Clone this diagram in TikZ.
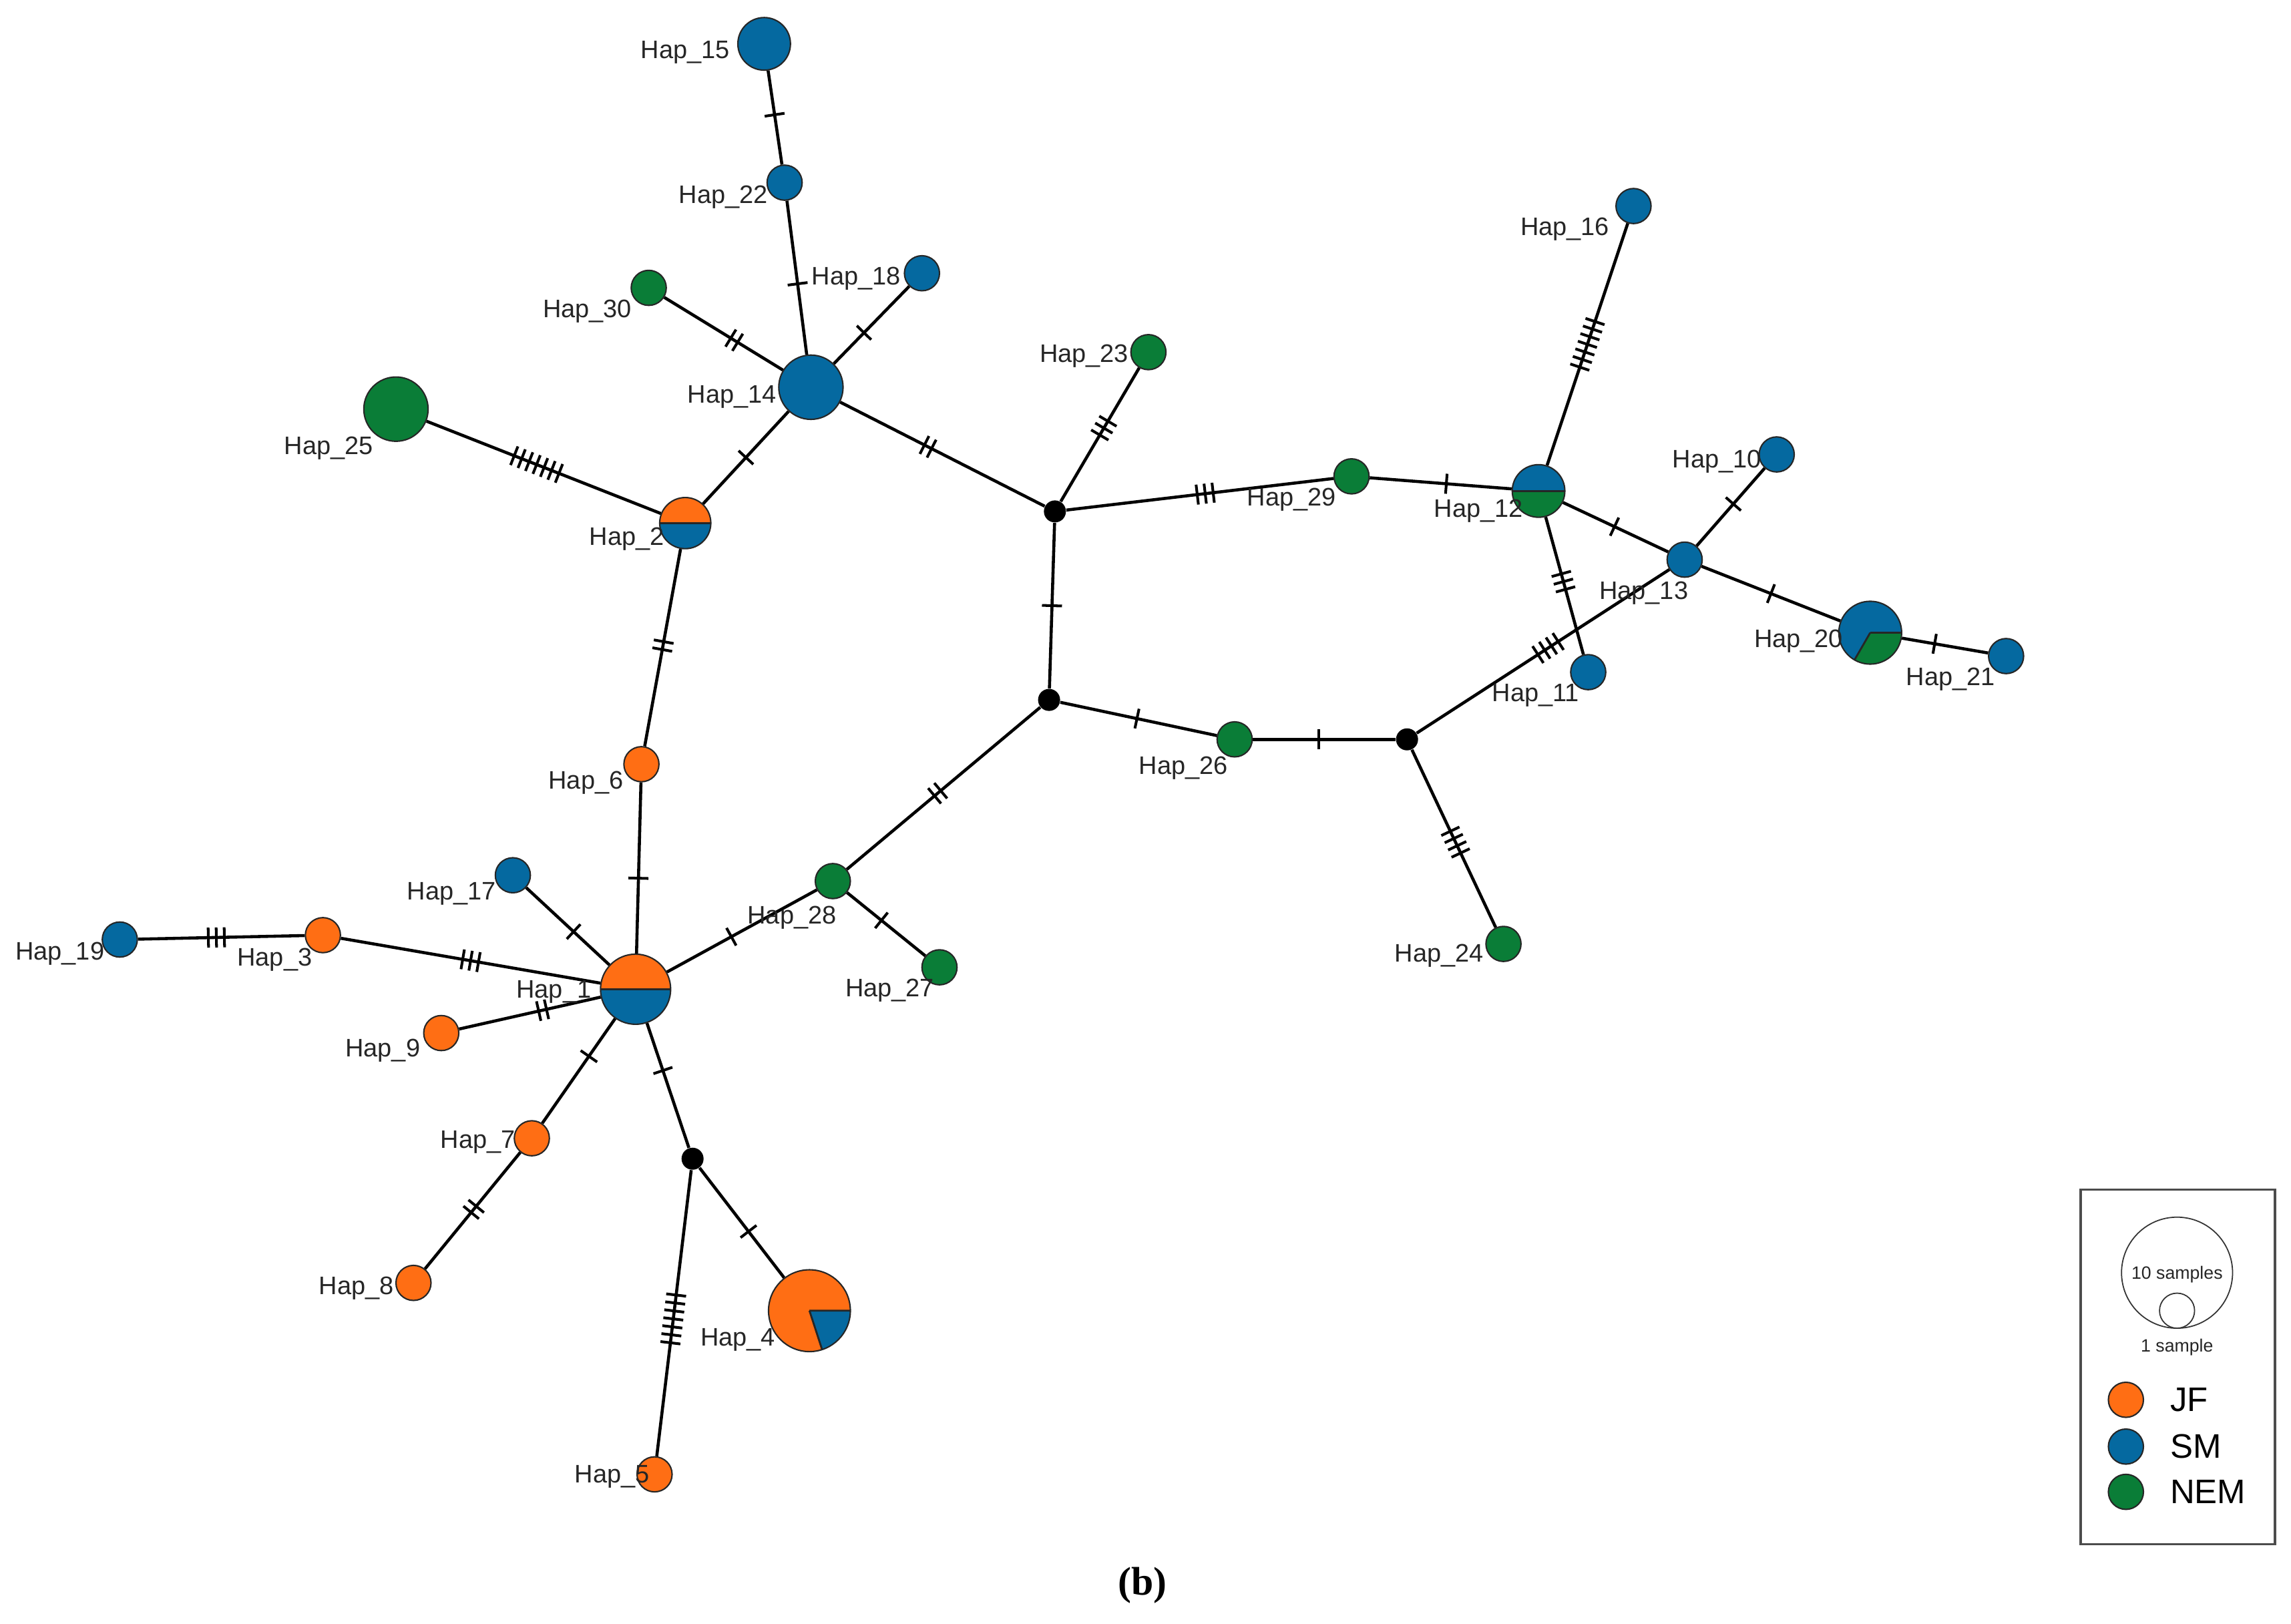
\documentclass[tikz,border=0pt]{standalone}
\usepackage{fontspec}
\setmainfont{Liberation Sans}
\newfontfamily\serifb{Liberation Serif}
\usetikzlibrary{decorations.markings}
\definecolor{jf}{RGB}{255,110,20}
\definecolor{sm}{RGB}{5,105,160}
\definecolor{nem}{RGB}{10,125,55}
\begin{document}
\begin{tikzpicture}[x=0.02188cm,y=-0.02188cm,
  hapnode/.style={circle, draw=black!85, line width=0.6pt, inner sep=0pt, minimum size={2*#1*0.02188cm}},
  mv/.style={circle, fill=black, inner sep=0pt, minimum size=0.33cm},
  lab/.style={text=black!85, font=\fontsize{10.8}{13}\selectfont, inner sep=0pt, yshift=-0.04cm},
  edge/.style={line width=1.3pt, black},
  muts/.style 2 args={postaction={decorate, decoration={markings, mark=at position #1 with {\foreach \k in {1,...,#2}{\draw[line width=1.15pt] ({(\k-(#2+1)/2)*0.12cm},-0.15cm) -- ++(0,0.3cm);}}}}},
  halves/.style 2 args={fill=#1, path picture={\fill[#2] (path picture bounding box.west) rectangle (path picture bounding box.south east); \draw[line width=0.9pt] (path picture bounding box.west) -- (path picture bounding box.east);}}
]
\useasboundingbox (0,0) rectangle (1568,1111);

% haplotype nodes
\node[hapnode=18, fill=sm] (h15) at (523,30) {};
\node[hapnode=12, fill=sm] (h22) at (537,125) {};
\node[hapnode=12, fill=sm] (h18) at (631,187) {};
\node[hapnode=12, fill=nem] (h30) at (444,197) {};
\node[hapnode=22, fill=sm] (h14) at (555,265) {};
\node[hapnode=22, fill=nem] (h25) at (271,280) {};
\node[hapnode=17.5, halves={jf}{sm}] (h2) at (469,358) {};
\node[hapnode=12, fill=jf] (h6) at (439,523) {};
\node[hapnode=12, fill=sm] (h17) at (351,599) {};
\node[hapnode=12, fill=sm] (h19) at (82,643) {};
\node[hapnode=12, fill=jf] (h3) at (221,640) {};
\node[hapnode=24, halves={jf}{sm}] (h1) at (435,677) {};
\node[hapnode=12, fill=jf] (h9) at (302,707) {};
\node[hapnode=12, fill=nem] (h28) at (570,603) {};
\node[hapnode=12, fill=nem] (h27) at (643,662) {};
\node[hapnode=12, fill=jf] (h7) at (364,779) {};
\node[hapnode=12, fill=jf] (h8) at (283,878) {};
\node[mv] (mD) at (474,793) {};
\node[hapnode=28, fill=jf, path picture={\fill[sm] (path picture bounding box.center) -- +(0:2cm) -- +(-36:2.5cm) -- +(-72:2cm) -- cycle; \draw[line width=0.8pt] (path picture bounding box.center) -- +(0:2cm) (path picture bounding box.center) -- +(-72:2cm);}] (h4) at (554,897) {};
\node[hapnode=12, fill=jf] (h5) at (448,1009) {};
\node[hapnode=12, fill=nem] (h23) at (786,241) {};
\node[mv] (mA) at (722,350) {};
\node[mv] (mB) at (718,479) {};
\node[hapnode=12, fill=nem] (h29) at (925,326) {};
\node[hapnode=18, halves={sm}{nem}] (h12) at (1053,336) {};
\node[hapnode=12, fill=sm] (h16) at (1118,141) {};
\node[hapnode=12, fill=sm] (h13) at (1153,383) {};
\node[hapnode=12, fill=sm] (h10) at (1216,311) {};
\node[hapnode=21.5, fill=sm, path picture={\fill[nem] (path picture bounding box.center) -- +(0:2cm) -- +(-60:2cm) -- +(-120:2cm) -- cycle; \draw[line width=0.8pt] (path picture bounding box.center) -- +(0:2cm) (path picture bounding box.center) -- +(-120:2cm);}] (h20) at (1280,433) {};
\node[hapnode=12, fill=sm] (h21) at (1373,449) {};
\node[hapnode=12, fill=sm] (h11) at (1087,460) {};
\node[hapnode=12, fill=nem] (h26) at (845,506) {};
\node[mv] (mC) at (963,506) {};
\node[hapnode=12, fill=nem] (h24) at (1029,646) {};

% connectors with mutation ticks
\draw[edge, muts={0.47}{1}] (h15) -- (h22);
\draw[edge, muts={0.54}{1}] (h22) -- (h14);
\draw[edge, muts={0.6}{1}] (h18) -- (h14);
\draw[edge, muts={0.59}{2}] (h30) -- (h14);
\draw[edge, muts={0.5}{1}] (h14) -- (h2);
\draw[edge, muts={0.43}{2}] (h14) -- (mA);
\draw[edge, muts={0.47}{7}] (h25) -- (h2);
\draw[edge, muts={0.49}{2}] (h2) -- (h6);
\draw[edge, muts={0.56}{1}] (h6) -- (h1);
\draw[edge, muts={0.57}{1}] (h17) -- (h1);
\draw[edge, muts={0.5}{3}] (h3) -- (h1);
\draw[edge, muts={0.47}{3}] (h19) -- (h3);
\draw[edge, muts={0.59}{2}] (h9) -- (h1);
\draw[edge, muts={0.36}{1}] (h1) -- (h7);
\draw[edge, muts={0.49}{2}] (h7) -- (h8);
\draw[edge, muts={0.38}{1}] (h1) -- (mD);
\draw[edge, muts={0.58}{1}] (mD) -- (h4);
\draw[edge, muts={0.52}{7}] (mD) -- (h5);
\draw[edge, muts={0.43}{1}] (h1) -- (h28);
\draw[edge, muts={0.44}{1}] (h28) -- (h27);
\draw[edge, muts={0.47}{2}] (h28) -- (mB);
\draw[edge, muts={0.5}{1}] (mB) -- (mA);
\draw[edge, muts={0.55}{3}] (mA) -- (h23);
\draw[edge, muts={0.52}{3}] (mA) -- (h29);
\draw[edge, muts={0.54}{1}] (h29) -- (h12);
\draw[edge, muts={0.5}{7}] (h12) -- (h16);
\draw[edge, muts={0.49}{1}] (h12) -- (h13);
\draw[edge, muts={0.47}{3}] (h12) -- (h11);
\draw[edge, muts={0.54}{1}] (h13) -- (h10);
\draw[edge, muts={0.5}{1}] (h13) -- (h20);
\draw[edge, muts={0.38}{1}] (h20) -- (h21);
\draw[edge, muts={0.52}{4}] (mC) -- (h13);
\draw[edge, muts={0.49}{1}] (mB) -- (h26);
\draw[edge, muts={0.46}{1}] (h26) -- (mC);
\draw[edge, muts={0.52}{4}] (mC) -- (h24);

% labels
\node[lab] (l15) at (469,34) {Hap\_15};
\node[lab] (l22) at (495,133) {Hap\_22};
\node[lab] (l18) at (586,189) {Hap\_18};
\node[lab] (l30) at (402,211) {Hap\_30};
\node[lab] (l14) at (501,270) {Hap\_14};
\node[lab] (l25) at (225,305) {Hap\_25};
\node[lab] (l2) at (429,367) {Hap\_2};
\node[lab] (l6) at (401,534) {Hap\_6};
\node[lab] (l17) at (309,610) {Hap\_17};
\node[lab] (l19) at (41,651) {Hap\_19};
\node[lab] (l3) at (188,655) {Hap\_3};
\node[lab] (l1) at (379,677) {Hap\_1};
\node[lab] (l9) at (262,717) {Hap\_9};
\node[lab] (l28) at (542,626) {Hap\_28};
\node[lab] (l27) at (609,676) {Hap\_27};
\node[lab] (l7) at (327,780) {Hap\_7};
\node[lab] (l8) at (244,880) {Hap\_8};
\node[lab] (l4) at (505,915) {Hap\_4};
\node[lab] (l5) at (419,1009) {Hap\_5};
\node[lab] (l23) at (742,242) {Hap\_23};
\node[lab] (l29) at (884,340) {Hap\_29};
\node[lab] (l12) at (1012,348) {Hap\_12};
\node[lab] (l16) at (1071,155) {Hap\_16};
\node[lab] (l13) at (1125,404) {Hap\_13};
\node[lab] (l10) at (1175,314) {Hap\_10};
\node[lab] (l20) at (1231,437) {Hap\_20};
\node[lab] (l21) at (1335,463) {Hap\_21};
\node[lab] (l11) at (1051,474) {Hap\_11};
\node[lab] (l26) at (810,524) {Hap\_26};
\node[lab] (l24) at (985,652) {Hap\_24};

% legend
\node[draw=black!70, line width=0.9pt, inner sep=0pt, minimum width=133*0.02188cm, minimum height=243*0.02188cm] (legbox) at (1490.5,935.5) {};
\node[circle, draw=black!80, line width=0.5pt, inner sep=0pt, minimum size=76*0.02188cm] (bigc) at (1490,871) {};
\node[circle, draw=black!80, line width=0.5pt, inner sep=0pt, minimum size=24*0.02188cm] (smallc) at (1490,897) {};
\node[text=black!85, font=\fontsize{7.6}{9}\selectfont, inner sep=0pt] (t10) at (1490,872) {10 samples};
\node[text=black!85, font=\fontsize{7.6}{9}\selectfont, inner sep=0pt] (t1) at (1490,922) {1 sample};
\node[hapnode=12, fill=jf] (kjf) at (1455,958) {};
\node[hapnode=12, fill=sm] (ksm) at (1455,990) {};
\node[hapnode=12, fill=nem] (knem) at (1455,1021) {};
\node[anchor=west, inner sep=0pt, font=\fontsize{14.5}{17}\selectfont] (tjf) at (1485,958) {JF};
\node[anchor=west, inner sep=0pt, font=\fontsize{14.5}{17}\selectfont] (tsm) at (1485,990) {SM};
\node[anchor=west, inner sep=0pt, font=\fontsize{14.5}{17}\selectfont] (tnem) at (1485,1021) {NEM};

% caption
\node[inner sep=0pt] (cap) at (782,1085) {\serifb\bfseries\fontsize{17}{20}\selectfont (b)};
\end{tikzpicture}
\end{document}
